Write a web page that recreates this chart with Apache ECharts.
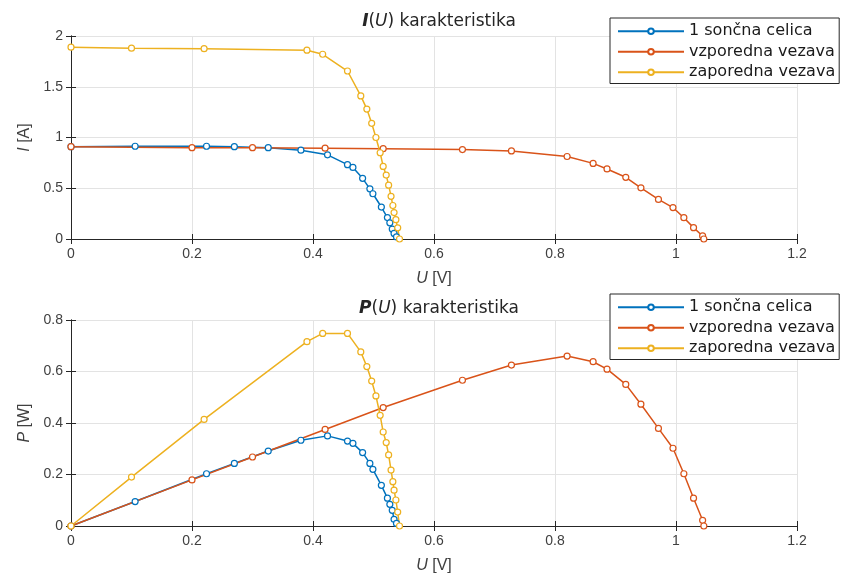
<!DOCTYPE html>
<html>
<head>
<meta charset="utf-8">
<script src="https://cdn.jsdelivr.net/npm/echarts@6/dist/echarts.min.js"></script>
<style>
  html, body { margin: 0; padding: 0; background: #fff; }
  #main { width: 845px; height: 581px; }
</style>
</head>
<body>
<div id="main"></div>
<script>
// legend names
const seriesNames = ['1 sončna celica', 'vzporedna vezava', 'zaporedna vezava'];

// 1 sončna celica
const celicaU = [0, 0.106, 0.224, 0.27, 0.326, 0.38, 0.424, 0.457, 0.466, 0.482, 0.494, 0.499, 0.513, 0.523, 0.527, 0.531, 0.534, 0.538];
const celicaI = [0.91, 0.914, 0.914, 0.91, 0.90, 0.875, 0.829, 0.732, 0.705, 0.598, 0.494, 0.446, 0.315, 0.211, 0.159, 0.098, 0.055, 0.02];
const celicaP = [0, 0.095, 0.203, 0.243, 0.291, 0.333, 0.35, 0.33, 0.321, 0.285, 0.243, 0.22, 0.158, 0.108, 0.084, 0.061, 0.026, 0.01];

// vzporedna vezava
const vzpU = [0, 0.2, 0.3, 0.42, 0.516, 0.647, 0.728, 0.82, 0.863, 0.886, 0.917, 0.942, 0.971, 0.995, 1.013, 1.029, 1.044, 1.046];
const vzpI = [0.91, 0.90, 0.90, 0.895, 0.89, 0.881, 0.868, 0.813, 0.745, 0.69, 0.608, 0.504, 0.39, 0.31, 0.21, 0.112, 0.03, 0];
const vzpP = [0, 0.179, 0.268, 0.375, 0.46, 0.566, 0.625, 0.66, 0.638, 0.609, 0.55, 0.473, 0.379, 0.302, 0.203, 0.108, 0.022, 0];

// zaporedna vezava
const zapU = [0, 0.10, 0.22, 0.39, 0.416, 0.457, 0.479, 0.489, 0.497, 0.504, 0.511, 0.516, 0.521, 0.525, 0.529, 0.532, 0.534, 0.537, 0.540, 0.543];
const zapI = [1.89, 1.88, 1.875, 1.86, 1.82, 1.655, 1.41, 1.28, 1.14, 1.0, 0.85, 0.715, 0.63, 0.53, 0.42, 0.33, 0.26, 0.19, 0.11, 0];
const zapP = [0, 0.19, 0.414, 0.716, 0.748, 0.748, 0.676, 0.619, 0.563, 0.505, 0.43, 0.365, 0.324, 0.276, 0.217, 0.172, 0.139, 0.101, 0.054, 0];

const colors = ['#0072BD', '#D95319', '#EDB120'];
const axisColor = '#262626';
const labelColor = '#404040';
const font = 'Liberation Sans, Arial, sans-serif';
const wideFont = 'DejaVu Sans, sans-serif';

function pairs(xs, ys) {
    return xs.map((x, k) => [x, ys[k]]);
}

function lineSeries(name, idx, data, axisIdx) {
    return {
        name: name,
        type: 'line',
        xAxisIndex: axisIdx,
        yAxisIndex: axisIdx,
        data: data,
        symbol: 'circle',
        symbolSize: 6,
        showSymbol: true,
        animation: false,
        lineStyle: { color: colors[idx], width: 1.5 },
        itemStyle: { color: '#fff', borderColor: colors[idx], borderWidth: 1.2 }
    };
}

function mainX(gridIdx) {
    return {
        type: 'value', gridIndex: gridIdx, min: 0, max: 1.2, interval: 0.2,
        name: '{i|U} [V]', nameLocation: 'middle', nameGap: 32,
        nameTextStyle: { fontFamily: font, fontSize: 16, color: labelColor,
            rich: { i: { fontStyle: 'italic', fontFamily: font, fontSize: 16, color: labelColor } } },
        axisLine: { show: true, lineStyle: { color: axisColor, width: 1 } },
        axisTick: { show: true, inside: true, length: 5, lineStyle: { color: axisColor } },
        axisLabel: { fontFamily: font, fontSize: 14, color: labelColor, margin: 8 },
        splitLine: { show: true, lineStyle: { color: '#e3e3e3', width: 1 } }
    };
}

function mirrorX(gridIdx) {
    return {
        type: 'value', gridIndex: gridIdx, position: 'top', min: 0, max: 1.2, interval: 0.2,
        axisLine: { show: true, lineStyle: { color: axisColor, width: 1 } },
        axisTick: { show: true, inside: true, length: 5, lineStyle: { color: axisColor } },
        axisLabel: { show: false },
        splitLine: { show: false }
    };
}

function mainY(gridIdx, max, interval, nameText) {
    return {
        type: 'value', gridIndex: gridIdx, min: 0, max: max, interval: interval,
        name: nameText, nameLocation: 'middle', nameGap: 38,
        nameTextStyle: { fontFamily: font, fontSize: 16, color: labelColor,
            rich: { i: { fontStyle: 'italic', fontFamily: font, fontSize: 16, color: labelColor } } },
        axisLine: { show: true, lineStyle: { color: axisColor, width: 1 } },
        axisTick: { show: true, inside: true, length: 5, lineStyle: { color: axisColor } },
        axisLabel: { fontFamily: font, fontSize: 14, color: labelColor, margin: 8 },
        splitLine: { show: true, lineStyle: { color: '#e3e3e3', width: 1 } }
    };
}

function mirrorY(gridIdx, max, interval) {
    return {
        type: 'value', gridIndex: gridIdx, position: 'right', min: 0, max: max, interval: interval,
        axisLine: { show: true, lineStyle: { color: axisColor, width: 1 } },
        axisTick: { show: true, inside: true, length: 5, lineStyle: { color: axisColor } },
        axisLabel: { show: false },
        splitLine: { show: false }
    };
}

function titleItem(letter, top) {
    return {
        text: '{b|' + letter + '}({i|U}) karakteristika',
        left: 434, top: top, textAlign: 'center',
        textStyle: {
            fontFamily: wideFont, fontSize: 17, fontWeight: 'normal', color: axisColor,
            rich: {
                b: { fontStyle: 'italic', fontWeight: 'bold', fontFamily: wideFont, fontSize: 17, color: axisColor },
                i: { fontStyle: 'italic', fontFamily: wideFont, fontSize: 17, color: axisColor }
            }
        }
    };
}

function legendItem(top) {
    return {
        data: seriesNames,
        orient: 'vertical',
        left: 610, top: top,
        itemWidth: 66, itemHeight: 7, itemGap: 4,
        padding: [5, 4, 3, 7],
        backgroundColor: '#fff',
        borderColor: axisColor, borderWidth: 1, borderRadius: 0,
        textStyle: { fontFamily: wideFont, fontSize: 16, lineHeight: 16.5, color: '#1a1a1a' },
        selectedMode: false
    };
}

const chart = echarts.init(document.getElementById('main'));

const option = {
    backgroundColor: '#fff',
    animation: false,
    color: colors,
    title: [titleItem('I', 8), titleItem('P', 295)],
    legend: [legendItem(18), legendItem(294)],
    grid: [
        { left: 71, width: 726, top: 36, height: 203 },
        { left: 71, width: 726, top: 320, height: 206 }
    ],
    xAxis: [mainX(0), mirrorX(0), mainX(1), mirrorX(1)],
    yAxis: [
        mainY(0, 2, 0.5, '{i|I} [A]'), mirrorY(0, 2, 0.5),
        mainY(1, 0.8, 0.2, '{i|P} [W]'), mirrorY(1, 0.8, 0.2)
    ],
    series: [
        lineSeries(seriesNames[0], 0, pairs(celicaU, celicaI), 0),
        lineSeries(seriesNames[1], 1, pairs(vzpU, vzpI), 0),
        lineSeries(seriesNames[2], 2, pairs(zapU, zapI), 0),
        lineSeries(seriesNames[0], 0, pairs(celicaU, celicaP), 2),
        lineSeries(seriesNames[1], 1, pairs(vzpU, vzpP), 2),
        lineSeries(seriesNames[2], 2, pairs(zapU, zapP), 2)
    ]
};

chart.setOption(option);
</script>
</body>
</html>
